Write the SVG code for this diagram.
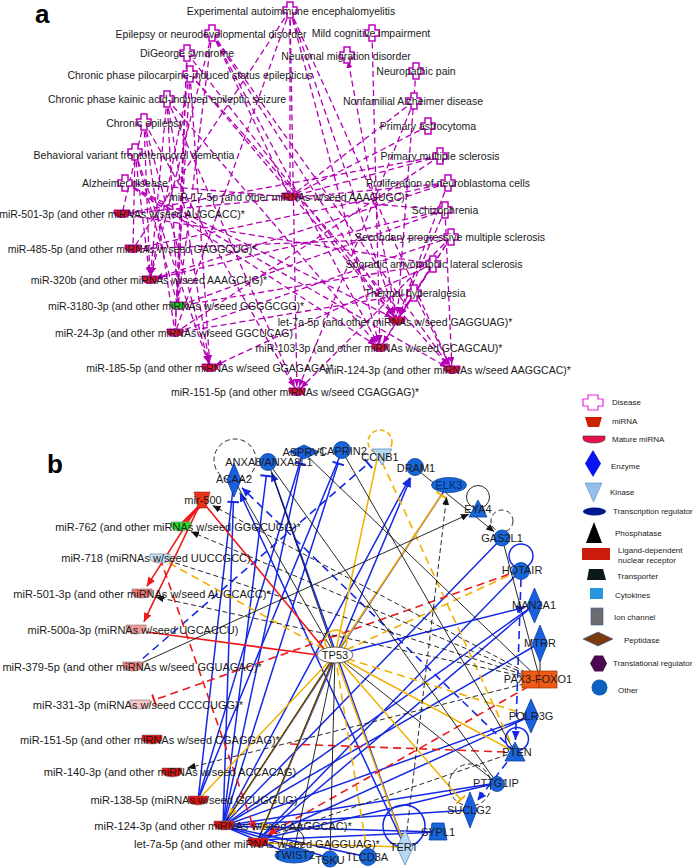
<svg xmlns="http://www.w3.org/2000/svg" width="698" height="868" viewBox="0 0 698 868">
<style>
text{font-family:"Liberation Sans",Arial,Helvetica,sans-serif;fill:#1a1a1a}
.ta{font-size:10.5px;text-anchor:middle}
.tb{font-size:11px;text-anchor:middle}
.tl{font-size:8px}
.hd{font-size:26px;font-weight:bold;fill:#000}
.ea line{stroke:#b400b4;stroke-width:1.3;stroke-dasharray:6,3.5;fill:none}
.dis{fill:#fff;stroke:#c000c0;stroke-width:1.5}
.mia{fill:#e0143c;stroke:#b400b4;stroke-width:1}
.b{stroke:#1428e6;stroke-width:1.5;fill:none}
.bd{stroke:#1428e6;stroke-width:1.6;fill:none;stroke-dasharray:8,5}
.y{stroke:#f2b000;stroke-width:1.5;fill:none}
.yd{stroke:#f2b000;stroke-width:1.6;fill:none;stroke-dasharray:8,5}
.r{stroke:#ee1a1a;stroke-width:1.6;fill:none}
.rd{stroke:#ee1a1a;stroke-width:1.6;fill:none;stroke-dasharray:8,5}
.k{stroke:#111;stroke-width:0.9;fill:none}
.kd{stroke:#111;stroke-width:0.9;fill:none;stroke-dasharray:5,3}
.oth{fill:#1766d9;stroke:#0b3f9e;stroke-width:0.8}
.enz{fill:#1a5fe0;stroke:#0b3f9e;stroke-width:0.8}
.kin{fill:#b9d9f2;stroke:#5d8fc4;stroke-width:0.8}
.mib{stroke:#777;stroke-width:0.6}
.red{fill:#e01010}
</style>
<defs>
<path id="cross" d="M-3,-8H3V-3H7V3H3V8H-3V3H-7V-3H-3Z"/>
<path id="bowl" d="M-8,-4H8V-1A8,4.5 0 0 1 -8,-1Z"/>
<path id="bowlb" d="M-10,-5H10V-1A10,5 0 0 1 -10,-1Z"/>
<marker id="ma" viewBox="0 0 14 6" refX="13" refY="3" markerWidth="14" markerHeight="6" markerUnits="userSpaceOnUse" orient="auto"><path d="M0,0L7,3L0,6z" fill="#b400b4"/></marker>
<marker id="ab" viewBox="0 0 9 8" refX="9" refY="4" markerWidth="9" markerHeight="8" markerUnits="userSpaceOnUse" orient="auto"><path d="M0,0L9,4L0,8z" fill="#1428e6"/></marker>
<marker id="ay" viewBox="0 0 9 8" refX="9" refY="4" markerWidth="9" markerHeight="8" markerUnits="userSpaceOnUse" orient="auto"><path d="M0,0L9,4L0,8z" fill="#f2b000"/></marker>
<marker id="ar" viewBox="0 0 9 8" refX="9" refY="4" markerWidth="9" markerHeight="8" markerUnits="userSpaceOnUse" orient="auto"><path d="M0,0L9,4L0,8z" fill="#ee1a1a"/></marker>
<marker id="ak" viewBox="0 0 8 7" refX="8" refY="3.5" markerWidth="8" markerHeight="7" markerUnits="userSpaceOnUse" orient="auto"><path d="M0,0L8,3.5L0,7z" fill="#111"/></marker>
<marker id="tb" viewBox="0 0 4 12" refX="2" refY="6" markerWidth="4" markerHeight="12" markerUnits="userSpaceOnUse" orient="auto"><path d="M2,0V12" stroke="#1428e6" stroke-width="2"/></marker>
<marker id="ty" viewBox="0 0 4 12" refX="2" refY="6" markerWidth="4" markerHeight="12" markerUnits="userSpaceOnUse" orient="auto"><path d="M2,0V12" stroke="#f2b000" stroke-width="2"/></marker>
<marker id="tr" viewBox="0 0 4 12" refX="2" refY="6" markerWidth="4" markerHeight="12" markerUnits="userSpaceOnUse" orient="auto"><path d="M2,0V12" stroke="#ee1a1a" stroke-width="2"/></marker>
</defs>
<rect width="698" height="868" fill="#fff"/>
<text class="hd" x="35" y="23">a</text>
<text class="hd" x="47" y="473">b</text>

<g id="edges-a" class="ea">
<line x1="290" y1="10" x2="290" y2="197"/>
<line x1="290" y1="10" x2="397" y2="320" marker-end="url(#ma)"/>
<line x1="290" y1="10" x2="380" y2="348" marker-end="url(#ma)"/>
<line x1="290" y1="10" x2="452" y2="370" marker-end="url(#ma)"/>
<line x1="290" y1="10" x2="297" y2="392" marker-end="url(#ma)"/>
<line x1="290" y1="10" x2="175" y2="333"/>
<line x1="290" y1="10" x2="133" y2="249"/>
<line x1="212" y1="33" x2="290" y2="197"/>
<line x1="212" y1="33" x2="397" y2="320" marker-end="url(#ma)"/>
<line x1="212" y1="33" x2="150" y2="280" marker-end="url(#ma)"/>
<line x1="212" y1="33" x2="178" y2="306"/>
<line x1="212" y1="33" x2="452" y2="370" marker-end="url(#ma)"/>
<line x1="212" y1="33" x2="380" y2="348" marker-end="url(#ma)"/>
<line x1="372" y1="33" x2="380" y2="348" marker-end="url(#ma)"/>
<line x1="187" y1="53" x2="178" y2="306"/>
<line x1="187" y1="53" x2="175" y2="333"/>
<line x1="187" y1="53" x2="397" y2="320" marker-end="url(#ma)"/>
<line x1="397" y1="320" x2="347" y2="55" marker-end="url(#ma)"/>
<line x1="190" y1="74" x2="150" y2="280" marker-end="url(#ma)"/>
<line x1="190" y1="74" x2="175" y2="333"/>
<line x1="190" y1="74" x2="210" y2="368" marker-end="url(#ma)"/>
<line x1="190" y1="74" x2="397" y2="320" marker-end="url(#ma)"/>
<line x1="190" y1="74" x2="452" y2="370" marker-end="url(#ma)"/>
<line x1="416" y1="71" x2="397" y2="320" marker-end="url(#ma)"/>
<line x1="167" y1="99" x2="150" y2="280" marker-end="url(#ma)"/>
<line x1="167" y1="99" x2="210" y2="368" marker-end="url(#ma)"/>
<line x1="167" y1="99" x2="178" y2="306"/>
<line x1="167" y1="99" x2="380" y2="348" marker-end="url(#ma)"/>
<line x1="167" y1="99" x2="297" y2="392" marker-end="url(#ma)"/>
<line x1="414" y1="101" x2="290" y2="197"/>
<line x1="414" y1="101" x2="297" y2="392" marker-end="url(#ma)"/>
<line x1="144" y1="122" x2="122" y2="214"/>
<line x1="144" y1="122" x2="150" y2="280" marker-end="url(#ma)"/>
<line x1="144" y1="122" x2="175" y2="333"/>
<line x1="144" y1="122" x2="210" y2="368" marker-end="url(#ma)"/>
<line x1="144" y1="122" x2="297" y2="392" marker-end="url(#ma)"/>
<line x1="428" y1="126" x2="290" y2="197"/>
<line x1="135" y1="152" x2="133" y2="249"/>
<line x1="135" y1="152" x2="150" y2="280" marker-end="url(#ma)"/>
<line x1="135" y1="152" x2="210" y2="368" marker-end="url(#ma)"/>
<line x1="135" y1="152" x2="178" y2="306"/>
<line x1="440" y1="156" x2="290" y2="197"/>
<line x1="440" y1="156" x2="122" y2="214"/>
<line x1="440" y1="156" x2="175" y2="333"/>
<line x1="125" y1="183" x2="290" y2="197"/>
<line x1="125" y1="183" x2="380" y2="348" marker-end="url(#ma)"/>
<line x1="125" y1="183" x2="397" y2="320" marker-end="url(#ma)"/>
<line x1="125" y1="183" x2="452" y2="370" marker-end="url(#ma)"/>
<line x1="448" y1="183" x2="133" y2="249"/>
<line x1="448" y1="183" x2="122" y2="214"/>
<line x1="448" y1="183" x2="150" y2="280" marker-end="url(#ma)"/>
<line x1="448" y1="183" x2="397" y2="320" marker-end="url(#ma)"/>
<line x1="445" y1="210" x2="290" y2="197"/>
<line x1="445" y1="210" x2="150" y2="280" marker-end="url(#ma)"/>
<line x1="445" y1="210" x2="178" y2="306"/>
<line x1="445" y1="210" x2="397" y2="320" marker-end="url(#ma)"/>
<line x1="445" y1="210" x2="452" y2="370" marker-end="url(#ma)"/>
<line x1="451" y1="237" x2="133" y2="249"/>
<line x1="451" y1="237" x2="175" y2="333"/>
<line x1="451" y1="237" x2="397" y2="320" marker-end="url(#ma)"/>
<line x1="451" y1="237" x2="380" y2="348" marker-end="url(#ma)"/>
<line x1="451" y1="237" x2="297" y2="392" marker-end="url(#ma)"/>
<line x1="433" y1="264" x2="122" y2="214"/>
<line x1="433" y1="264" x2="210" y2="368" marker-end="url(#ma)"/>
<line x1="433" y1="264" x2="178" y2="306"/>
<line x1="433" y1="264" x2="397" y2="320" marker-end="url(#ma)"/>
<line x1="433" y1="264" x2="380" y2="348" marker-end="url(#ma)"/>
<line x1="414" y1="293" x2="397" y2="320" marker-end="url(#ma)"/>
<line x1="414" y1="293" x2="452" y2="370" marker-end="url(#ma)"/>
<line x1="414" y1="293" x2="175" y2="333"/>
</g>

<g id="d-eae"><use href="#cross" x="290" y="10" class="dis"/><text class="ta" x="291" y="15">Experimental autoimmune encephalomyelitis</text></g>
<g id="d-epi"><use href="#cross" x="212" y="33" class="dis"/><text class="ta" x="211" y="38">Epilepsy or neurodevelopmental disorder</text></g>
<g id="d-mci"><use href="#cross" x="372" y="33" class="dis"/><text class="ta" x="371" y="37">Mild cognitive impairment</text></g>
<g id="d-dig"><use href="#cross" x="187" y="53" class="dis"/><text class="ta" x="187" y="57">DiGeorge syndrome</text></g>
<g id="d-nmd"><use href="#cross" x="347" y="55" class="dis"/><text class="ta" x="346" y="60">Neuronal migration disorder</text></g>
<g id="d-pilo"><use href="#cross" x="190" y="74" class="dis"/><text class="ta" x="190" y="79">Chronic phase pilocarpine-induced status epilepticus</text></g>
<g id="d-np"><use href="#cross" x="416" y="71" class="dis"/><text class="ta" x="416" y="75">Neuropathic pain</text></g>
<g id="d-kai"><use href="#cross" x="167" y="99" class="dis"/><text class="ta" x="167" y="103">Chronic phase kainic acid-induced epileptic seizure</text></g>
<g id="d-nfad"><use href="#cross" x="414" y="101" class="dis"/><text class="ta" x="413" y="105">Nonfamilial Alzheimer disease</text></g>
<g id="d-ce"><use href="#cross" x="144" y="122" class="dis"/><text class="ta" x="145" y="127">Chronic epilepsy</text></g>
<g id="d-pa"><use href="#cross" x="428" y="126" class="dis"/><text class="ta" x="428" y="130">Primary astrocytoma</text></g>
<g id="d-bvftd"><use href="#cross" x="135" y="152" class="dis"/><text class="ta" x="134" y="159">Behavioral variant frontotemporal dementia</text></g>
<g id="d-pms"><use href="#cross" x="440" y="156" class="dis"/><text class="ta" x="440" y="160">Primary multiple sclerosis</text></g>
<g id="d-ad"><use href="#cross" x="125" y="183" class="dis"/><text class="ta" x="125" y="187">Alzheimer disease</text></g>
<g id="d-prol"><use href="#cross" x="448" y="183" class="dis"/><text class="ta" x="448" y="187">Proliferation of neuroblastoma cells</text></g>
<g id="d-sch"><use href="#cross" x="445" y="210" class="dis"/><text class="ta" x="445" y="214">Schizophrenia</text></g>
<g id="d-spms"><use href="#cross" x="451" y="237" class="dis"/><text class="ta" x="450" y="241">Secondary progressive multiple sclerosis</text></g>
<g id="d-sals"><use href="#cross" x="433" y="264" class="dis"/><text class="ta" x="434" y="268">Sporadic amyotrophic lateral sclerosis</text></g>
<g id="d-th"><use href="#cross" x="414" y="293" class="dis"/><text class="ta" x="415" y="297">Thermal hyperalgesia</text></g>

<g id="a-mir17"><use href="#bowl" x="290" y="197" class="mia"/><text class="ta" x="289" y="201">miR-17-5p (and other miRNAs w/seed AAAGUGC)*</text></g>
<g id="a-mir501"><use href="#bowl" x="122" y="214" class="mia"/><text class="ta" x="122" y="218">miR-501-3p (and other miRNAs w/seed AUGCACC)*</text></g>
<g id="a-mir485"><use href="#bowl" x="133" y="249" class="mia"/><text class="ta" x="132" y="253">miR-485-5p (and other miRNAs w/seed GAGGCUG)*</text></g>
<g id="a-mir320b"><use href="#bowl" x="150" y="280" class="mia"/><text class="ta" x="149" y="284">miR-320b (and other miRNAs w/seed AAAGCUG)*</text></g>
<g id="a-mir3180"><use href="#bowl" x="178" y="306" class="mia" style="fill:#22cc22"/><text class="ta" x="176" y="310">miR-3180-3p (and other miRNAs w/seed GGGGCGG)*</text></g>
<g id="a-let7a"><use href="#bowl" x="397" y="321" class="mia"/><text class="ta" x="395" y="326">let-7a-5p (and other miRNAs w/seed GAGGUAG)*</text></g>
<g id="a-mir24"><use href="#bowl" x="175" y="333" class="mia"/><text class="ta" x="174" y="337">miR-24-3p (and other miRNAs w/seed GGCUCAG)</text></g>
<g id="a-mir103"><use href="#bowl" x="380" y="348" class="mia"/><text class="ta" x="379" y="352">miR-103-3p (and other miRNAs w/seed GCAGCAU)*</text></g>
<g id="a-mir185"><use href="#bowl" x="210" y="368" class="mia"/><text class="ta" x="210" y="372">miR-185-5p (and other miRNAs w/seed GGAGAGA)*</text></g>
<g id="a-mir124"><use href="#bowl" x="452" y="370" class="mia"/><text class="ta" x="448" y="374">miR-124-3p (and other miRNAs w/seed AAGGCAC)*</text></g>
<g id="a-mir151"><use href="#bowl" x="297" y="392" class="mia"/><text class="ta" x="295" y="396">miR-151-5p (and other miRNAs w/seed CGAGGAG)*</text></g>

<g id="edges-b">
<line class="b" x1="223" y1="826" x2="233.4" y2="502" marker-end="url(#tb)"/>
<line class="b" x1="223" y1="826" x2="266.3" y2="475.9" marker-end="url(#tb)"/>
<line class="b" x1="223" y1="826" x2="300.5" y2="463.7" marker-end="url(#tb)"/>
<line class="b" x1="223" y1="826" x2="338.1" y2="463.4" marker-end="url(#tb)"/>
<line class="b" x1="258" y1="840" x2="410.7" y2="478.1" marker-end="url(#ab)"/>
<line class="b" x1="223" y1="826" x2="409.8" y2="477.7" marker-end="url(#ab)"/>
<line class="b" x1="405" y1="847" x2="271.7" y2="472.4" marker-end="url(#ab)"/>
<line class="b" x1="405" y1="847" x2="239.9" y2="492.7" marker-end="url(#ab)"/>
<line class="b" x1="223" y1="826" x2="502" y2="538"/>
<line class="b" x1="223" y1="826" x2="540" y2="643"/>
<line class="b" x1="223" y1="826" x2="531" y2="716"/>
<line class="b" x1="223" y1="826" x2="497" y2="783"/>
<line class="b" x1="223" y1="826" x2="470" y2="810"/>
<line class="b" x1="223" y1="826" x2="438" y2="832"/>
<line class="b" x1="223" y1="826" x2="293" y2="855"/>
<line class="b" x1="223" y1="826" x2="330" y2="858"/>
<line class="b" x1="223" y1="826" x2="368" y2="857"/>
<line class="b" x1="223" y1="826" x2="448" y2="485"/>
<line class="b" x1="223" y1="826" x2="534" y2="605"/>
<line class="b" x1="258" y1="840" x2="534" y2="605"/>
<line class="b" x1="258" y1="840" x2="531" y2="716"/>
<line class="b" x1="258" y1="840" x2="497" y2="783"/>
<line class="b" x1="258" y1="840" x2="438" y2="832"/>
<line class="b" x1="258" y1="840" x2="521" y2="570"/>
<line class="b" x1="198" y1="800" x2="303" y2="452"/>
<line class="b" x1="198" y1="800" x2="234" y2="480"/>
<line class="b" x1="198" y1="800" x2="342" y2="451"/>
<line class="b" x1="335" y1="655" x2="525.3" y2="607.2" marker-end="url(#ab)"/>
<line class="bd" x1="515" y1="752" x2="241.9" y2="487.7" marker-end="url(#ab)"/>
<line class="bd" x1="133" y1="667" x2="368.2" y2="463.5" marker-end="url(#tb)"/>
<line class="bd" x1="521" y1="579" x2="515.5" y2="740" marker-end="url(#ab)"/>
<line class="bd" x1="515" y1="752" x2="477.4" y2="800.5" marker-end="url(#ab)"/>
<line class="y" x1="335" y1="655" x2="229" y2="816.8" marker-end="url(#ay)"/>
<line class="y" x1="335" y1="655" x2="261.5" y2="831.7" marker-end="url(#ay)"/>
<line class="y" x1="335" y1="655" x2="378" y2="455"/>
<line class="y" x1="335" y1="655" x2="441.4" y2="495" marker-end="url(#ty)"/>
<line class="y" x1="335" y1="655" x2="515" y2="752"/>
<line class="y" x1="335" y1="655" x2="460.8" y2="799.5" marker-end="url(#ty)"/>
<line class="y" x1="335" y1="655" x2="405" y2="847"/>
<line class="y" x1="405" y1="847" x2="262" y2="843"/>
<line class="y" x1="335" y1="655" x2="198" y2="800"/>
<line class="yd" x1="335" y1="655" x2="160" y2="558"/>
<line class="yd" x1="335" y1="655" x2="521" y2="570"/>
<line class="yd" x1="335" y1="655" x2="368" y2="857"/>
<line class="yd" x1="335" y1="655" x2="531" y2="716"/>
<line class="yd" x1="382" y1="462" x2="515" y2="752"/>
<line class="r" x1="202" y1="504" x2="183" y2="523" style="stroke-width:3.2"/>
<line class="r" x1="202" y1="500" x2="146.8" y2="586.4" marker-end="url(#ar)"/>
<line class="r" x1="202" y1="500" x2="143.9" y2="621.9" marker-end="url(#ar)"/>
<line class="r" x1="206" y1="506" x2="325" y2="650"/>
<line class="r" x1="147" y1="632" x2="318" y2="655"/>
<line class="rd" x1="521" y1="570" x2="154.1" y2="700" marker-end="url(#tr)"/>
<line class="rd" x1="160" y1="558" x2="254.7" y2="830.6" marker-end="url(#ar)"/>
<line class="rd" x1="505" y1="752" x2="290" y2="744"/>
<line class="rd" x1="540" y1="680" x2="267.6" y2="834.6" marker-end="url(#ar)"/>
<line class="k" x1="234" y1="480" x2="335" y2="655"/>
<line class="k" x1="268" y1="462" x2="335" y2="655"/>
<line class="k" x1="342" y1="451" x2="515" y2="752"/>
<line class="k" x1="303" y1="452" x2="540" y2="680"/>
<line class="k" x1="415" y1="468" x2="494.2" y2="531.7" marker-end="url(#ak)"/>
<line class="k" x1="502" y1="538" x2="540" y2="680"/>
<line class="k" x1="540" y1="643" x2="540" y2="680"/>
<line class="k" x1="335" y1="655" x2="330" y2="858"/>
<line class="k" x1="335" y1="655" x2="293" y2="855"/>
<line class="k" x1="335" y1="655" x2="258" y2="840"/>
<line class="k" x1="335" y1="655" x2="223" y2="826"/>
<line class="k" x1="133" y1="667" x2="468.9" y2="514.1" marker-end="url(#ak)"/>
<line class="k" x1="335" y1="655" x2="497" y2="783"/>
<line class="k" x1="268" y1="462" x2="497" y2="783"/>
<line class="kd" x1="540" y1="680" x2="191" y2="531.7" marker-end="url(#ak)"/>
<line class="kd" x1="540" y1="680" x2="155.7" y2="597" marker-end="url(#ak)"/>
<line class="kd" x1="540" y1="680" x2="187.5" y2="768.1" marker-end="url(#ak)"/>
<line class="kd" x1="540" y1="680" x2="212.6" y2="505.6" marker-end="url(#ak)"/>
<line class="kd" x1="160" y1="558" x2="540" y2="680"/>
<line class="kd" x1="405" y1="847" x2="446.6" y2="496.9" marker-end="url(#ak)"/>
<line class="kd" x1="515" y1="752" x2="258" y2="840"/>
<circle class="kd" cx="235" cy="460" r="21"/>
<circle class="yd" cx="380" cy="442" r="12" style="stroke-dasharray:5,3"/>
<circle class="k" cx="478" cy="497" r="11.5"/>
<circle class="kd" cx="502" cy="521" r="11"/>
<circle class="b" cx="521" cy="556" r="12"/>
<circle class="b" cx="517" cy="739" r="11.5"/>
<circle class="kd" cx="470" cy="785" r="21"/>
<circle class="b" cx="404" cy="826" r="21"/>
<circle class="k" cx="293" cy="840" r="11"/>
<circle class="y" cx="336" cy="641" r="11"/>
</g>

<g id="n-mir500"><path d="M194,492H210L206,508H198Z" fill="#e8321a" stroke="#a02010" stroke-width="0.6"/><text class="tb" x="203" y="504">mir-500</text></g>
<g id="n-mir762"><use href="#bowlb" x="181" y="527" class="mib" style="fill:#2ee02e"/><text class="tb" x="178" y="531">miR-762 (and other miRNAs w/seed GGGCUGG)*</text></g>
<g id="n-mir718"><use href="#bowlb" x="160" y="559" class="mib" style="fill:#c6e0f5"/><text class="tb" x="156" y="562">miR-718 (miRNAs w/seed UUCCGCC)</text></g>
<g id="n-mir501"><use href="#bowlb" x="142" y="594" class="mib" style="fill:#f07878"/><text class="tb" x="142" y="598">miR-501-3p (and other miRNAs w/seed AUGCACC)*</text></g>
<g id="n-mir500a"><use href="#bowlb" x="136" y="630" class="mib" style="fill:#f49a9a"/><text class="tb" x="133" y="634">miR-500a-3p (miRNAs w/seed UGCACCU)</text></g>
<g id="n-mir379"><use href="#bowlb" x="133" y="667" class="mib" style="fill:#f08080"/><text class="tb" x="132" y="671">miR-379-5p (and other miRNAs w/seed GGUAGAC)*</text></g>
<g id="n-mir331"><use href="#bowlb" x="140" y="705" class="mib" style="fill:#fac8c8"/><text class="tb" x="138" y="709">miR-331-3p (miRNAs w/seed CCCCUGG)*</text></g>
<g id="n-mir151"><use href="#bowlb" x="152" y="740" class="mib red"/><text class="tb" x="150" y="744">miR-151-5p (and other miRNAs w/seed CGAGGAG)*</text></g>
<g id="n-mir140"><use href="#bowlb" x="172" y="773" class="mib red"/><text class="tb" x="170" y="776">miR-140-3p (and other miRNAs w/seed ACCACAG)</text></g>
<g id="n-mir138"><use href="#bowlb" x="198" y="801" class="mib red"/><text class="tb" x="194" y="804">miR-138-5p (miRNAs w/seed GCUGGUG)</text></g>
<g id="n-mir124"><use href="#bowlb" x="224" y="826" class="mib red"/><text class="tb" x="223" y="830">miR-124-3p (and other miRNAs w/seed AAGGCAC)*</text></g>
<g id="n-let7a"><use href="#bowlb" x="258" y="843" class="mib red"/><text class="tb" x="257" y="848">let-7a-5p (and other miRNAs w/seed GAGGUAG)*</text></g>

<g id="n-tp53"><ellipse cx="335" cy="655" rx="18" ry="8" fill="#fff" stroke="#555" stroke-width="0.9"/><text class="tb" x="335" y="659">TP53</text></g>
<g id="n-acaa2"><path class="enz" d="M234,463L241,480L234,497L227,480Z"/><text class="tb" x="234" y="483">ACAA2</text></g>
<g id="n-anxa8"><circle class="oth" cx="268" cy="462" r="8.5"/><text class="tb" x="269" y="466">ANXA8/ANXA8L1</text></g>
<g id="n-asprv1"><path class="enz" d="M289,452L304,445L319,452L304,459Z"/><text class="tb" x="304" y="456">ASPRV1</text></g>
<g id="n-caprin2"><circle class="oth" cx="342" cy="450" r="8.5"/><text class="tb" x="343" y="455">CAPRIN2</text></g>
<g id="n-ccnb1"><path class="kin" d="M372,449H392L382,465Z"/><text class="tb" x="380" y="461">CCNB1</text></g>
<g id="n-dram1"><circle class="oth" cx="415" cy="467" r="8.5"/><text class="tb" x="416" y="472">DRAM1</text></g>
<g id="n-elk3"><ellipse class="oth" cx="449" cy="485" rx="17.5" ry="7.5"/><text class="tb" x="449" y="489" style="fill:#0a2a6a">ELK3</text></g>
<g id="n-eya4"><path class="oth" d="M478,500L487,517H469Z"/><text class="tb" x="478" y="513">EYA4</text></g>
<g id="n-gas2l1"><circle class="oth" cx="502" cy="538" r="8"/><text class="tb" x="502" y="542">GAS2L1</text></g>
<g id="n-hotair"><circle class="oth" cx="521" cy="571" r="8.5"/><text class="tb" x="522" y="574">HOTAIR</text></g>
<g id="n-man2a1"><path class="enz" d="M534.5,588L542,605.5L534.5,623L527,605.5Z"/><text class="tb" x="534" y="609">MAN2A1</text></g>
<g id="n-mtrr"><path class="enz" d="M540,625L547.5,643.5L540,662L532.5,643.5Z"/><text class="tb" x="540" y="647">MTRR</text></g>
<g id="n-pax3foxo1"><rect x="522" y="671" width="17" height="17" fill="#f05a14" stroke="#a03000" stroke-width="0.7"/><rect x="539" y="671" width="18" height="17" fill="#f05a14" stroke="#a03000" stroke-width="0.7"/><text class="tb" x="538" y="683">PAX3-FOXO1</text></g>
<g id="n-polr3g"><path class="enz" d="M531,699L538.5,716L531,733L523.5,716Z"/><text class="tb" x="531" y="720">POLR3G</text></g>
<g id="n-pten"><path class="oth" d="M515,742L525,761H505Z"/><text class="tb" x="517" y="756">PTEN</text></g>
<g id="n-pttg1ip"><circle class="oth" cx="497" cy="784" r="7.5"/><text class="tb" x="496" y="787">PTTG1IP</text></g>
<g id="n-suclg2"><path class="enz" d="M470,792L477,810L470,828L463,810Z"/><text class="tb" x="469" y="814">SUCLG2</text></g>
<g id="n-sypl1"><path class="oth" d="M432,823H444L447,840H429Z"/><text class="tb" x="438" y="836">SYPL1</text></g>
<g id="n-tert"><path class="kin" d="M405,830L413,847.5L405,865L397,847.5Z"/><text class="tb" x="404" y="851">TERT</text></g>
<g id="n-tlcd3a"><circle class="oth" cx="368" cy="857" r="8.5"/><text class="tb" x="367" y="861">TLCD3A</text></g>
<g id="n-tsku"><circle class="oth" cx="330" cy="859" r="8"/><text class="tb" x="330" y="864">TSKU</text></g>
<g id="n-twist2"><ellipse class="oth" cx="294" cy="855.5" rx="19" ry="7.5"/><text class="tb" x="295" y="859">TWIST2</text></g>

<g id="legend">
<path d="M588,395H598V399H603V406H598V410H588V406H583V399H588Z" fill="#fff" stroke="#e22de2" stroke-width="1.2"/><text class="tl" x="612" y="405">Disease</text>
<path d="M585,417H602L599,427H588Z" fill="#cc2200"/><text class="tl" x="612" y="424">miRNA</text>
<path d="M583,436H605V439A11,4 0 0 1 583,439Z" fill="#e8104a" stroke="#333" stroke-width="0.6"/><text class="tl" x="612" y="442">Mature miRNA</text>
<path d="M593,450L601,463.5L593,477L585,463.5Z" fill="#0a14f0"/><text class="tl" x="611" y="469">Enzyme</text>
<path d="M585,483H602L593.5,502Z" fill="#92c0ea" stroke="#5a8ac0" stroke-width="0.6"/><text class="tl" x="610" y="495">Kinase</text>
<ellipse cx="594.5" cy="511.5" rx="11.5" ry="4" fill="#00188c"/><text class="tl" x="613" y="514">Transcription regulator</text>
<path d="M594,522L602,543H586Z" fill="#000"/><text class="tl" x="615" y="536">Phosphatase</text>
<rect x="582" y="548" width="28" height="12" fill="#cc1c0c"/><text class="tl" x="618" y="553">Ligand-dependent</text><text class="tl" x="618" y="563">nuclear receptor</text>
<path d="M589,569H603L606,580H587Z" fill="#0a1a1a"/><text class="tl" x="617" y="579">Transporter</text>
<rect x="590" y="588" width="13" height="11" fill="#2896dc"/><text class="tl" x="615" y="598">Cytokines</text>
<rect x="591" y="608" width="12" height="17" fill="#6b6b70" stroke="#3a5a9a" stroke-width="0.6"/><text class="tl" x="614" y="620">Ion channel</text>
<path d="M583,639L598,632L613,639L598,646Z" fill="#7a3a0c" stroke="#2a5a9a" stroke-width="0.6"/><text class="tl" x="624" y="643">Peptidase</text>
<path d="M590,663.5L594.5,655.5H603L607,663.5L603,671.5H594.5Z" fill="#4a0a50"/><text class="tl" x="613" y="666">Translational regulator</text>
<circle cx="599.5" cy="687.5" r="8" fill="#1060c0"/><text class="tl" x="618" y="693">Other</text>
</g>
</svg>
